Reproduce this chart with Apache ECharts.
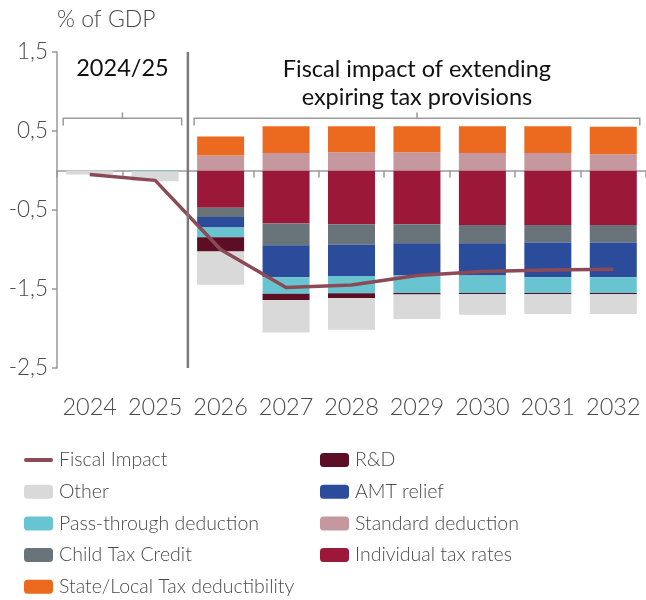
<!DOCTYPE html>
<html>
<head>
<meta charset="utf-8">
<script src="https://cdn.jsdelivr.net/npm/echarts@6/dist/echarts.min.js"></script>
<style>
  html, body { margin: 0; padding: 0; background: #ffffff; }
  #chart { width: 646px; height: 600px; }
</style>
</head>
<body>
<div id="chart"></div>
<script>
// Fiscal impact of extending expiring tax provisions, % of GDP
const years = ['2024', '2025', '2026', '2027', '2028', '2029', '2030', '2031', '2032'];

const individualTaxRates = [0, 0, -0.47, -0.67, -0.68, -0.68, -0.69, -0.69, -0.69];
const childTaxCredit     = [0, 0, -0.12, -0.275, -0.26, -0.24, -0.23, -0.22, -0.22];
const amtRelief          = [0, 0, -0.13, -0.405, -0.395, -0.41, -0.41, -0.44, -0.44];
const passThrough        = [0, -0.01, -0.125, -0.21, -0.22, -0.22, -0.22, -0.20, -0.20];
const researchDev        = [0, 0, -0.18, -0.08, -0.06, -0.02, -0.015, -0.015, -0.015];
const otherItems         = [-0.05, -0.125, -0.42, -0.41, -0.40, -0.31, -0.26, -0.25, -0.25];
const standardDeduction  = [0, 0, 0.19, 0.22, 0.23, 0.23, 0.22, 0.22, 0.205];
const stateLocalTax      = [0, 0, 0.24, 0.34, 0.33, 0.33, 0.34, 0.34, 0.35];
const fiscalImpact       = [-0.05, -0.125, -1.0, -1.48, -1.45, -1.33, -1.28, -1.26, -1.25];

// value axis: ticks at -2.5, -1.5, ... , 1.5
const yMin = -2.5;
const yMax = 1.5;
const yStep = 1;

const periodLabel = '2024/25';
const projectionLabel = 'Fiscal impact of extending\nexpiring tax provisions';

const FONT = 'Lato, "Noto Sans", sans-serif';
const TEXT_GREY = '#4a4a4a';
const AXIS_GREY = '#9a9a9a';
const LINE_COLOR = '#8b4a55';

const chart = echarts.init(document.getElementById('chart'), null, { renderer: 'canvas' });

function barSeries(name, data, color) {
  return {
    name: name,
    type: 'bar',
    stack: 'total',
    xAxisIndex: 0,
    barWidth: 47,
    data: data,
    itemStyle: { color: color },
    emphasis: { disabled: true }
  };
}

const legendText = {
  fontFamily: FONT,
  fontSize: 19.5,
  fontWeight: 300,
  color: TEXT_GREY,
  lineHeight: 22,
  padding: [0, 0, 0, 1]
};

function legendBlock(left, items) {
  return {
    orient: 'vertical',
    left: left,
    top: 444,
    height: 170,
    itemWidth: 29,
    itemHeight: 14,
    itemGap: 9.7,
    symbolKeepAspect: true,
    textStyle: legendText,
    data: items
  };
}

chart.setOption({
  animation: false,
  textStyle: { fontFamily: FONT },
  grid: { left: 57, right: -5, top: 52, bottom: 232 },
  legend: [
    legendBlock(19, [
      { name: 'Fiscal Impact', icon: 'path://M2,0h25a2,2,0,0,1,0,4h-25a2,2,0,0,1,0,-4z', itemStyle: { color: LINE_COLOR } },
      'Other',
      'Pass-through deduction',
      'Child Tax Credit',
      'State/Local Tax deductibility'
    ]),
    legendBlock(315, ['R&D', 'AMT relief', 'Standard deduction', 'Individual tax rates'])
  ],
  xAxis: [
    {
      type: 'category',
      data: years,
      position: 'bottom',
      axisLine: { show: false, onZero: false },
      axisTick: { show: false },
      axisLabel: { interval: 0, fontSize: 23.5, fontWeight: 300, color: TEXT_GREY, margin: 27, fontFamily: FONT }
    },
    {
      type: 'category',
      data: years,
      position: 'top',
      axisLine: { show: true, onZero: true, lineStyle: { color: AXIS_GREY, width: 1.5 } },
      axisTick: { show: true, inside: true, length: 7, lineStyle: { color: AXIS_GREY, width: 1.5 } },
      axisLabel: { show: false },
      splitLine: { show: false }
    }
  ],
  yAxis: {
    type: 'value',
    min: yMin,
    max: yMax,
    interval: yStep,
    name: '% of GDP',
    nameLocation: 'end',
    nameGap: 21,
    nameTextStyle: { fontSize: 23, fontWeight: 300, color: TEXT_GREY, align: 'left', verticalAlign: 'bottom', fontFamily: FONT },
    axisLine: { show: true, lineStyle: { color: AXIS_GREY, width: 1.5 } },
    axisTick: { show: true, length: 5, lineStyle: { color: AXIS_GREY, width: 1.5 } },
    axisLabel: {
      fontSize: 22.5,
      fontWeight: 300,
      color: TEXT_GREY,
      margin: 9,
      fontFamily: FONT,
      formatter: function (v) { return v.toFixed(1).replace('.', ','); }
    },
    splitLine: { show: false }
  },
  series: [
    barSeries('Individual tax rates', individualTaxRates, '#9b1838'),
    barSeries('Child Tax Credit', childTaxCredit, '#687479'),
    barSeries('AMT relief', amtRelief, '#2b4b9b'),
    barSeries('Pass-through deduction', passThrough, '#68c4d1'),
    barSeries('R&D', researchDev, '#5c0f24'),
    barSeries('Other', otherItems, '#d9d9d9'),
    barSeries('Standard deduction', standardDeduction, '#c5989f'),
    barSeries('State/Local Tax deductibility', stateLocalTax, '#ec6a1f'),
    {
      name: 'Fiscal Impact',
      type: 'line',
      xAxisIndex: 0,
      data: fiscalImpact,
      symbol: 'none',
      z: 5,
      lineStyle: { color: LINE_COLOR, width: 3.5 },
      itemStyle: { color: LINE_COLOR },
      emphasis: { disabled: true }
    }
  ]
});

// Annotations: period divider, brackets and headings, placed through the axes' scales
function px(cat, val) {
  return chart.convertToPixel({ xAxisIndex: 0, yAxisIndex: 0 }, [cat, val]);
}
function yPx(val) { return px(years[0], val)[1]; }

const xDivider = (px('2025', 0)[0] + px('2026', 0)[0]) / 2;
const yTop = yPx(yMax);
const yBottom = yPx(yMin);
const bracketY = yPx(0.66);
const bracketEnd = yPx(0.57);
const bracketPeak = yPx(0.735);
const overhang = 26.5;

function bracket(x1, x2) {
  const mid = (x1 + x2) / 2;
  return [
    {
      type: 'polyline',
      shape: { points: [[x1, bracketEnd], [x1, bracketY], [x2, bracketY], [x2, bracketEnd]] },
      style: { stroke: AXIS_GREY, lineWidth: 1.5, fill: null }
    },
    {
      type: 'line',
      shape: { x1: mid, y1: bracketY, x2: mid, y2: bracketPeak },
      style: { stroke: AXIS_GREY, lineWidth: 1.5 }
    }
  ];
}

const b1x1 = px('2024', 0)[0] - overhang;
const b1x2 = px('2025', 0)[0] + overhang;
const b2x1 = px('2026', 0)[0] - overhang;
const b2x2 = px('2032', 0)[0] + overhang;

chart.setOption({
  graphic: [
    {
      type: 'line',
      shape: { x1: xDivider, y1: yTop, x2: xDivider, y2: yBottom },
      style: { stroke: '#7a7a7a', lineWidth: 2.5 },
      z: 10
    },
    ...bracket(b1x1, b1x2),
    ...bracket(b2x1, b2x2),
    {
      type: 'text',
      style: {
        text: periodLabel,
        x: (b1x1 + b1x2) / 2,
        y: yPx(1.29),
        align: 'center',
        verticalAlign: 'middle',
        font: '400 23.5px ' + FONT,
        fill: '#111111'
      }
    },
    {
      type: 'text',
      style: {
        text: projectionLabel,
        x: (b2x1 + b2x2) / 2,
        y: yPx(1.10),
        align: 'center',
        verticalAlign: 'middle',
        font: '400 23.5px ' + FONT,
        lineHeight: 28,
        fill: '#111111'
      }
    }
  ]
});
</script>
</body>
</html>
